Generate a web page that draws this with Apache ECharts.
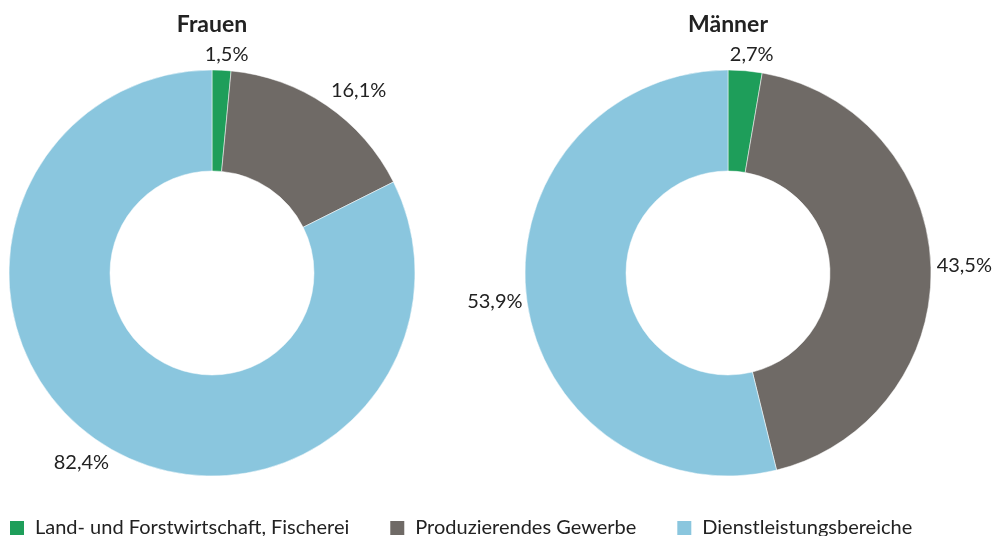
<!DOCTYPE html>
<html>
<head>
<meta charset="utf-8">
<script src="https://cdn.jsdelivr.net/npm/echarts@6/dist/echarts.min.js"></script>
<style>
  html, body { margin: 0; padding: 0; background: #ffffff; }
  #chart { width: 992px; height: 536px; }
</style>
</head>
<body>
<div id="chart"></div>
<script>
// Sektoren und Anteile (in %)
const categories = ['Land- und Forstwirtschaft, Fischerei', 'Produzierendes Gewerbe', 'Dienstleistungsbereiche']
const frauenValues = [1.5, 16.1, 82.4]
const maennerValues = [2.7, 43.5, 53.9]
const titles = ['Frauen', 'Männer']

const colors = ['#1e9e5a', '#6f6a66', '#8ac6de']
const fontFamily = 'Lato, "Noto Sans", sans-serif'

const centers = [[212, 273], [728, 273]]
const outerR = 203
const innerR = 102
const allValues = [frauenValues, maennerValues]

const chart = echarts.init(document.getElementById('chart'))

// Beschriftung: Ecke der Textbox liegt knapp außerhalb des Rings
function placeLabel(params) {
  const vals = allValues[params.seriesIndex]
  const total = vals.reduce((a, b) => a + b, 0)
  let before = 0
  for (let i = 0; i < params.dataIndex; i++) before += vals[i]
  const theta = (before + vals[params.dataIndex] / 2) / total * 2 * Math.PI
  const s = Math.sin(theta)
  const c = Math.cos(theta)
  const r = outerR + 7
  const px = centers[params.seriesIndex][0] + r * s
  const py = centers[params.seriesIndex][1] - r * c
  const w = params.labelRect.width
  const h = params.labelRect.height
  const clamp = v => Math.max(-1, Math.min(1, v))
  let x = px + w / 2 * clamp(s * 1.6) + 3
  // nicht über den rechten Rand hinaus
  x = Math.min(x, chart.getWidth() - w / 2)
  return {
    x: x,
    y: py - h / 2 * clamp(c * 1.6) + 1,
    align: 'center',
    verticalAlign: 'middle'
  }
}

function pieSeries(name, values, idx) {
  return {
    name: name,
    type: 'pie',
    center: centers[idx],
    radius: [innerR, outerR],
    startAngle: 90,
    clockwise: true,
    avoidLabelOverlap: false,
    emphasis: { disabled: true },
    itemStyle: { borderColor: '#ffffff', borderWidth: 0.5 },
    label: {
      show: true,
      position: 'outside',
      fontFamily: fontFamily,
      fontSize: 20,
      color: '#222222',
      formatter: p => p.value.toFixed(1).replace('.', ',') + '%'
    },
    labelLine: { show: false, length: 6, length2: 0 },
    labelLayout: placeLabel,
    data: categories.map((c, i) => ({ name: c, value: values[i] }))
  }
}

chart.setOption({
  color: colors,
  animation: false,
  title: titles.map((t, i) => ({
    text: t,
    left: centers[i][0],
    top: 13,
    padding: 0,
    textAlign: 'center',
    textStyle: { fontFamily: fontFamily, fontSize: 23, fontWeight: 'bold', color: '#222222' }
  })),
  legend: {
    left: 8,
    top: 518,
    padding: 0,
    itemWidth: 16,
    itemHeight: 16,
    itemGap: 39,
    icon: 'rect',
    selectedMode: false,
    textStyle: { fontFamily: fontFamily, fontSize: 20, color: '#222222', padding: [0, 0, 0, 5] },
    data: categories
  },
  series: [
    pieSeries(titles[0], frauenValues, 0),
    pieSeries(titles[1], maennerValues, 1)
  ]
})
</script>
</body>
</html>
